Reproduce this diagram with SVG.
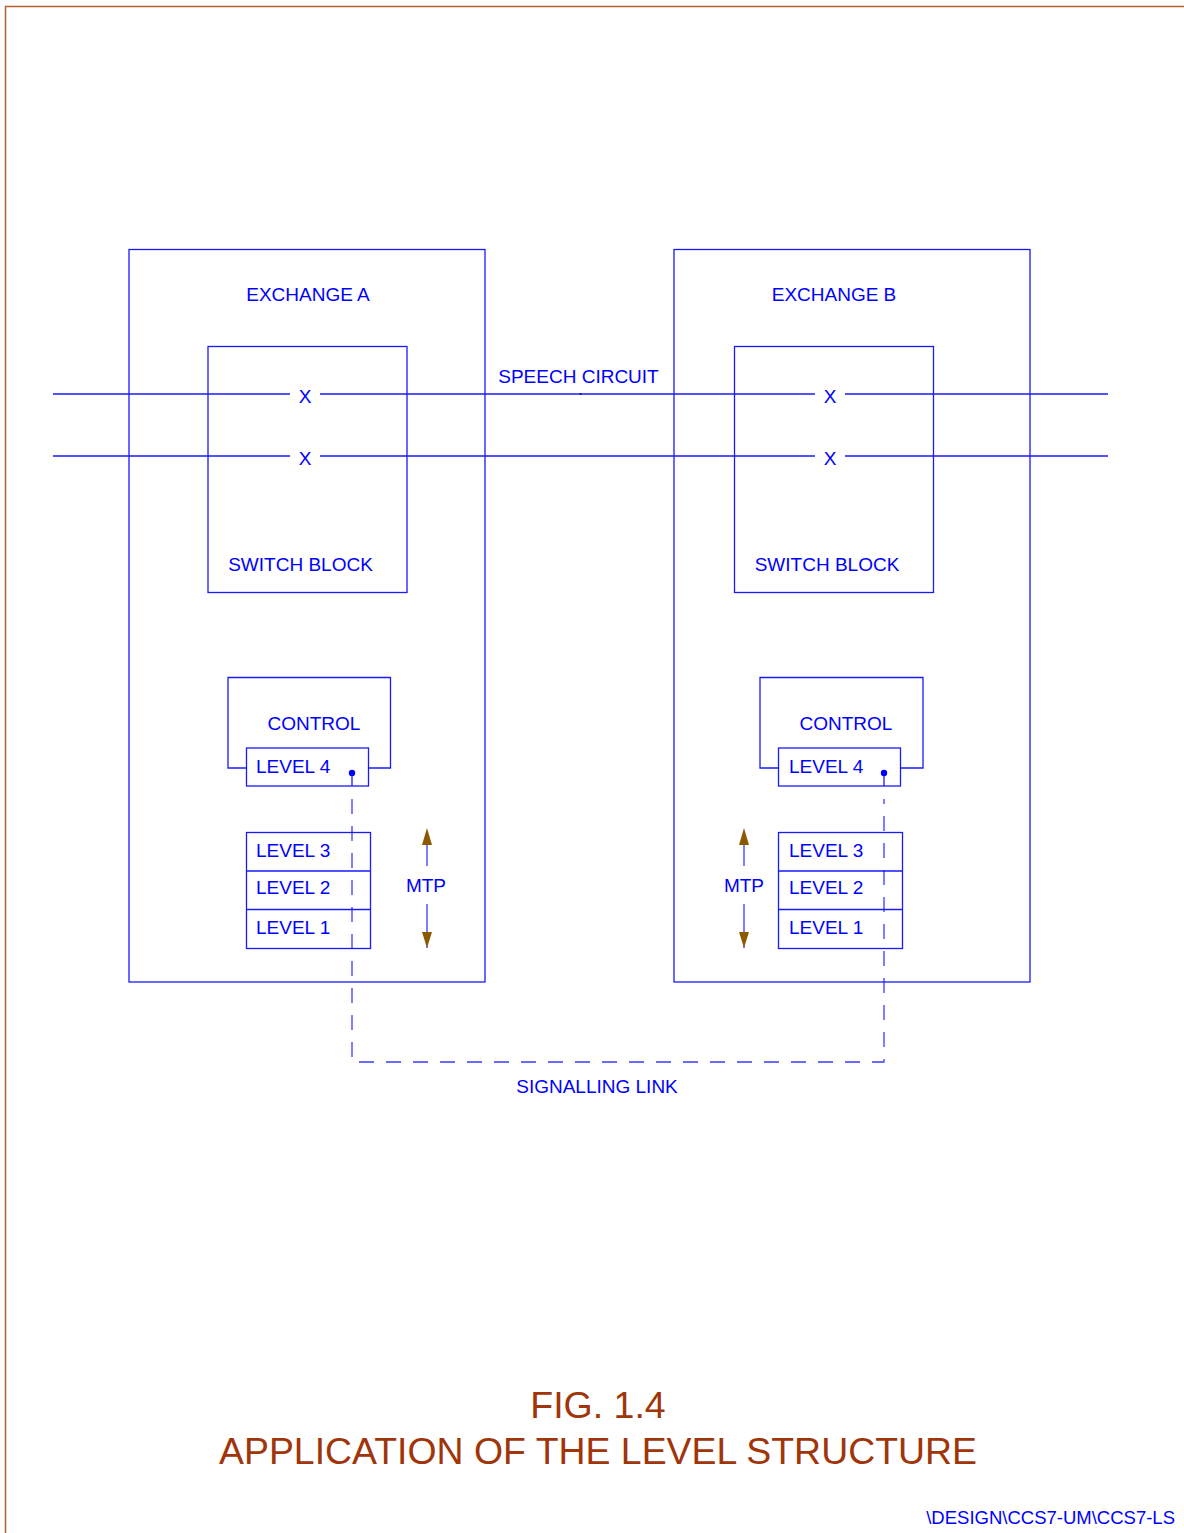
<svg xmlns="http://www.w3.org/2000/svg" width="1184" height="1533" viewBox="0 0 1184 1533">
<style>
.b{fill:none;stroke:#1a1aff;stroke-width:1.3}
.t{font-family:"Liberation Sans",Arial,sans-serif;font-size:19px;fill:#0000ff}
.d{fill:none;stroke:#3a3aff;stroke-width:1.3;stroke-dasharray:15 12}
.ar{stroke:#3a3aff;stroke-width:1.3}
.ah{fill:#8b5a00}
</style>
<rect width="1184" height="1533" fill="#fff"/>
<path d="M5.5 1533V6.5H1184" fill="none" stroke="#b5602e" stroke-width="1.5"/>
<g id="connectors">
<path class="b" d="M53 394H290M320 394H815M845 394H1108"/>
<path class="b" d="M53 456H290M320 456H815M845 456H1108"/>
<circle cx="580.5" cy="394" r="1" fill="#0000aa"/>
<path class="b" d="M352 773V786M884 773V786"/>
<path class="d" d="M352 799V1062H884V799"/>
<circle cx="352" cy="773" r="3.2" fill="#0000ff"/>
<circle cx="884" cy="773" r="3.2" fill="#0000ff"/>
</g>
<g id="exchangeA">
<rect class="b" x="129" y="249.5" width="356" height="732.5"/>
<text class="t" x="308" y="301" text-anchor="middle">EXCHANGE A</text>
</g>
<g id="exchangeB">
<rect class="b" x="674" y="249.5" width="356" height="732.5"/>
<text class="t" x="834" y="301" text-anchor="middle">EXCHANGE B</text>
</g>
<g id="switchA">
<rect class="b" x="208" y="346.5" width="199" height="246"/>
<text class="t" x="300.5" y="571" text-anchor="middle">SWITCH BLOCK</text>
<text class="t" x="305" y="403" text-anchor="middle">X</text>
<text class="t" x="305" y="465" text-anchor="middle">X</text>
</g>
<g id="switchB">
<rect class="b" x="734.5" y="346.5" width="199" height="246"/>
<text class="t" x="827" y="571" text-anchor="middle">SWITCH BLOCK</text>
<text class="t" x="830" y="403" text-anchor="middle">X</text>
<text class="t" x="830" y="465" text-anchor="middle">X</text>
</g>
<text class="t" x="578.5" y="383" text-anchor="middle">SPEECH CIRCUIT</text>
<g id="controlA">
<path class="b" d="M246 768H228V677.5H390.5V768H368"/>
<text class="t" x="314" y="730" text-anchor="middle">CONTROL</text>
<rect class="b" x="246.5" y="748" width="122" height="38"/>
<text class="t" x="256" y="773">LEVEL 4</text>
</g>
<g id="controlB">
<path class="b" d="M778 768H760V677.5H923V768H900"/>
<text class="t" x="846" y="730" text-anchor="middle">CONTROL</text>
<rect class="b" x="778.5" y="748" width="122" height="38"/>
<text class="t" x="789" y="773">LEVEL 4</text>
</g>
<g id="mtpA">
<rect class="b" x="246.5" y="832.5" width="124" height="116"/>
<path class="b" d="M246.5 871H370.5M246.5 909.5H370.5"/>
<text class="t" x="256" y="857">LEVEL 3</text>
<text class="t" x="256" y="894">LEVEL 2</text>
<text class="t" x="256" y="934">LEVEL 1</text>
</g>
<g id="mtpB">
<rect class="b" x="778.5" y="832.5" width="124" height="116"/>
<path class="b" d="M778.5 871H902.5M778.5 909.5H902.5"/>
<text class="t" x="789" y="857">LEVEL 3</text>
<text class="t" x="789" y="894">LEVEL 2</text>
<text class="t" x="789" y="934">LEVEL 1</text>
</g>
<g id="mtpArrowA">
<path class="ar" d="M427 845V866M427 904V948"/>
<path class="ah" d="M427 828L432 845H422Z"/>
<path class="ah" d="M427 948L432 932H422Z"/>
<text class="t" x="426" y="892" text-anchor="middle">MTP</text>
</g>
<g id="mtpArrowB">
<path class="ar" d="M744 845V866M744 904V948"/>
<path class="ah" d="M744 828L749 845H739Z"/>
<path class="ah" d="M744 948L749 932H739Z"/>
<text class="t" x="744" y="892" text-anchor="middle">MTP</text>
</g>
<text class="t" x="597" y="1093" text-anchor="middle">SIGNALLING LINK</text>
<g font-family="Liberation Sans,Arial,sans-serif" fill="#a0350a" text-anchor="middle">
<text x="598" y="1418" font-size="37.5">FIG. 1.4</text>
<text x="598" y="1464" font-size="37.5" textLength="758" lengthAdjust="spacingAndGlyphs">APPLICATION OF THE LEVEL STRUCTURE</text>
</g>
<text x="1175" y="1524" text-anchor="end" font-family="Liberation Sans,Arial,sans-serif" font-size="18.5" fill="#0000ff">\DESIGN\CCS7-UM\CCS7-LS</text>
</svg>
